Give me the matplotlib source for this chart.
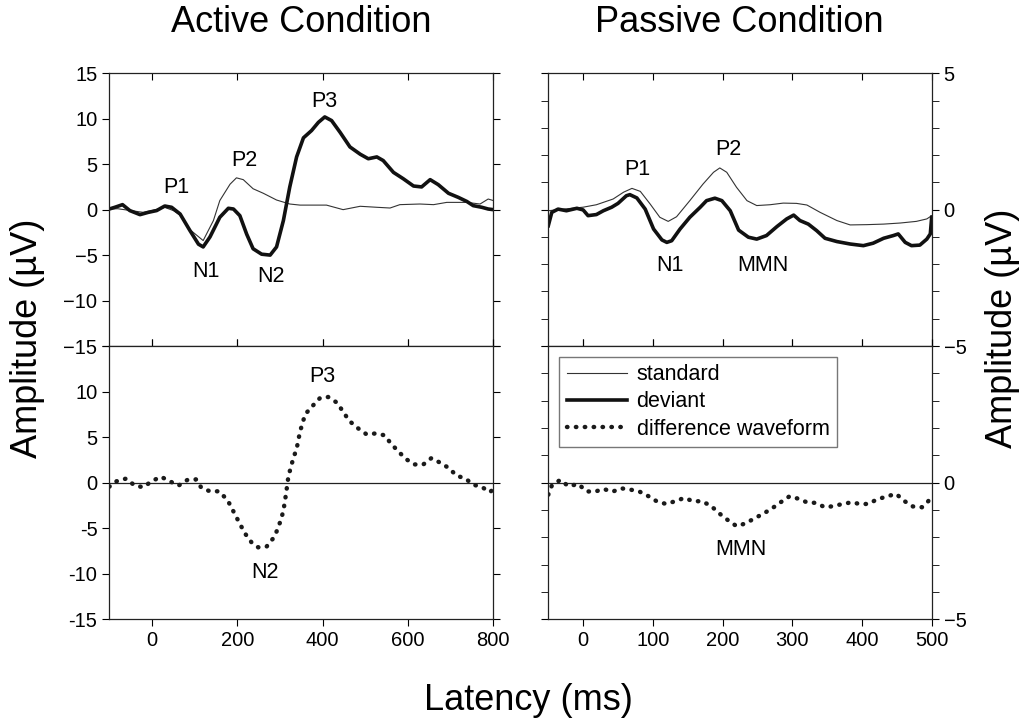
import matplotlib
matplotlib.use("Agg")
import matplotlib.pyplot as plt
import numpy as np
from matplotlib.lines import Line2D

plt.rcParams['font.family'] = ['Liberation Sans', 'DejaVu Sans']

# ---------------- Active condition data ----------------
act_dev_t = [-100, -87, -69, -52, -28, -9, 11, 30, 46, 66, 89, 109, 120, 136, 159, 179, 191,
             206, 222, 237, 257, 277, 292, 308, 323, 339, 355, 374, 390, 405, 421, 441, 464,
             488, 507, 527, 542, 566, 589, 613, 632, 652, 671, 695, 718, 738, 753, 773, 788, 800]
act_dev_v = [0.07, 0.26, 0.55, -0.1, -0.55, -0.3, -0.1, 0.4, 0.26, -0.48, -2.3, -3.8, -4.1, -3.0,
             -0.84, 0.15, 0.07, -0.66, -2.7, -4.3, -4.9, -5.0, -4.1, -1.2, 2.5, 5.8, 7.9, 8.7, 9.6,
             10.2, 9.8, 8.5, 6.9, 6.1, 5.6, 5.8, 5.4, 4.1, 3.4, 2.6, 2.5, 3.3, 2.75, 1.8, 1.35,
             0.9, 0.44, 0.26, 0.07, 0.0]

act_std_t = [-100, -80, -50, -20, 0, 30, 50, 66, 89, 120, 144, 159, 183, 198, 214, 237, 261,
             292, 323, 347, 409, 448, 488, 527, 558, 581, 628, 660, 691, 738, 769, 788, 800]
act_std_v = [0.07, 0.1, -0.1, -0.3, -0.1, 0.25, -0.1, -0.6, -2.2, -3.4, -1.2, 1.0, 2.8, 3.5,
             3.3, 2.3, 1.8, 1.06, 0.62, 0.5, 0.5, 0.0, 0.37, 0.26, 0.18, 0.55, 0.62, 0.55, 0.8,
             0.8, 0.62, 1.17, 1.0]

act_diff_t = [-100, -83, -61, -40, -20, -1, 21, 42, 62, 83, 103, 116, 136, 157, 177, 187, 198,
              208, 220, 234, 249, 269, 286, 295, 302, 308, 314, 320, 326, 331, 339, 347, 359,
              376, 394, 413, 433, 448, 462, 482, 503, 524, 545, 560, 576, 595, 615, 636, 655,
              675, 696, 714, 734, 753, 774, 792, 800]
act_diff_v = [-0.44, 0.15, 0.44, -0.33, -0.5, 0.15, 0.65, 0.15, -0.33, 0.3, 0.36, -0.58, -0.95,
              -0.95, -1.9, -2.8, -3.8, -4.7, -5.7, -6.6, -7.1, -7.0, -6.0, -5.05, -4.1, -3.1,
              -1.3, 0.76, 1.75, 2.65, 3.7, 5.6, 7.5, 8.4, 9.3, 9.4, 8.8, 7.8, 6.8, 6.0, 5.3, 5.4,
              5.2, 4.3, 3.5, 2.6, 2.0, 2.0, 2.7, 2.2, 1.6, 0.76, 0.47, -0.22, -0.5, -1.05, -0.7]

# ---------------- Passive condition data ----------------
pas_std_t = [-50, -28, 0, 19, 43, 58, 70, 82, 96, 110, 122, 134, 153, 172, 187, 196, 206, 220,
             235, 249, 268, 287, 306, 321, 340, 364, 383, 407, 431, 455, 478, 493, 500]
pas_std_v = [-0.04, 0.02, 0.09, 0.18, 0.39, 0.64, 0.78, 0.67, 0.21, -0.28, -0.43, -0.26, 0.33,
             0.94, 1.37, 1.53, 1.37, 0.82, 0.33, 0.15, 0.18, 0.24, 0.23, 0.17, -0.1, -0.4, -0.56,
             -0.55, -0.53, -0.49, -0.43, -0.34, -0.22]

pas_dev_t = [-50, -45, -36, -24, -9, 0, 7, 19, 29, 41, 50, 62, 67, 77, 89, 101, 113, 120, 127,
             139, 153, 168, 177, 189, 199, 211, 223, 237, 249, 263, 278, 292, 302, 311, 323, 335,
             347, 364, 383, 402, 416, 431, 445, 452, 462, 471, 483, 493, 498, 500]
pas_dev_v = [-0.59, -0.1, 0.02, -0.04, 0.05, -0.01, -0.22, -0.18, -0.04, 0.09, 0.23, 0.51, 0.55,
             0.43, 0.02, -0.71, -1.11, -1.2, -1.14, -0.71, -0.28, 0.09, 0.33, 0.42, 0.33, -0.04,
             -0.75, -1.01, -1.08, -0.95, -0.62, -0.34, -0.2, -0.4, -0.53, -0.77, -1.05, -1.17,
             -1.26, -1.32, -1.23, -1.05, -0.95, -0.89, -1.2, -1.32, -1.3, -1.08, -0.89, -0.28]

pas_diff_t = [-50, -45, -33, -21, -7, 5, 17, 29, 42, 55, 67, 81, 94, 106, 119, 132, 145, 158,
              170, 183, 195, 208, 220, 232, 245, 258, 270, 282, 296, 309, 321, 333, 347, 359,
              372, 385, 397, 409, 421, 436, 449, 460, 473, 486, 495, 500]
pas_diff_v = [-0.44, -0.11, 0.1, -0.13, -0.05, -0.32, -0.33, -0.23, -0.33, -0.21, -0.25, -0.33,
              -0.5, -0.69, -0.78, -0.68, -0.56, -0.68, -0.68, -0.84, -1.12, -1.38, -1.59, -1.5,
              -1.32, -1.14, -0.96, -0.74, -0.5, -0.59, -0.72, -0.74, -0.9, -0.86, -0.78, -0.72,
              -0.78, -0.78, -0.62, -0.5, -0.41, -0.66, -0.87, -0.9, -0.68, -0.47]

legend_labels = ["standard", "deviant", "difference waveform"]

# ---------------- Figure ----------------
W, H = 1029, 724
fig = plt.figure(figsize=(W / 100, H / 100), dpi=100)

def ax_rect(x0, x1, y0, y1):
    return [x0 / W, 1 - y1 / H, (x1 - x0) / W, (y1 - y0) / H]

axA1 = fig.add_axes(ax_rect(109.3, 493.3, 73.3, 346))
axA2 = fig.add_axes(ax_rect(109.3, 493.3, 346, 619.3))
axP1 = fig.add_axes(ax_rect(548.3, 931.7, 73.3, 346))
axP2 = fig.add_axes(ax_rect(548.3, 931.7, 346, 619.3))

TICKFS = 14.5
ANNFS = 15.5
thin_lw = 0.8
thick_lw = 2.6
dot_style = dict(color='#1a1a1a', lw=3.2, linestyle=(0, (0.1, 1.9)), dash_capstyle='round')

for ax in (axA1, axA2, axP1, axP2):
    for s in ax.spines.values():
        s.set_linewidth(0.9)
        s.set_color('#222222')

# --- Active top ---
axA1.plot(act_std_t, act_std_v, color='#333333', lw=thin_lw)
axA1.plot(act_dev_t, act_dev_v, color='#111111', lw=thick_lw)
axA1.set_xlim(-100, 800)
axA1.set_ylim(-15, 15)
axA1.set_yticks([-15, -10, -5, 0, 5, 10, 15])
axA1.set_xticks([0, 200, 400, 600, 800])
axA1.tick_params(axis='x', which='both', top=True, bottom=True, direction='in',
                 labelbottom=False, length=5)
axA1.tick_params(axis='y', which='both', left=True, right=True, direction='out',
                 labelsize=TICKFS, length=5)
for t, txt, v in [(56, 'P1', 2.4), (216, 'P2', 5.4), (405, 'P3', 11.9), (126, 'N1', -6.8), (279, 'N2', -7.4)]:
    axA1.text(t, v, txt, fontsize=ANNFS, ha='center', va='center')

# --- Active bottom ---
axA2.axhline(0, color='#222222', lw=0.9)
axA2.plot(act_diff_t, act_diff_v, **dot_style)
axA2.set_xlim(-100, 800)
axA2.set_ylim(-15, 15)
axA2.set_yticks([-15, -10, -5, 0, 5, 10, 15])
axA2.set_yticklabels(['-15', '-10', '-5', '0', '5', '10', ''])
axA2.set_xticks([0, 200, 400, 600, 800])
axA2.tick_params(axis='x', which='both', top=True, bottom=True, direction='out',
                 labelsize=TICKFS, length=5)
axA2.tick_params(axis='y', which='both', left=True, right=True, direction='out',
                 labelsize=TICKFS, length=5)
axA2.text(400, 11.7, 'P3', fontsize=ANNFS, ha='center', va='center')
axA2.text(265, -9.9, 'N2', fontsize=ANNFS, ha='center', va='center')

# --- Passive top ---
axP1.plot(pas_std_t, pas_std_v, color='#333333', lw=thin_lw)
axP1.plot(pas_dev_t, pas_dev_v, color='#111111', lw=thick_lw)
axP1.set_xlim(-50, 500)
axP1.set_ylim(-5, 5)
axP1.set_yticks([-5, 0, 5])
axP1.set_yticks(np.arange(-5, 6, 1), minor=True)
axP1.set_xticks([0, 100, 200, 300, 400, 500])
axP1.tick_params(axis='x', which='both', top=True, bottom=True, direction='in',
                 labelbottom=False, length=5)
axP1.tick_params(axis='y', which='both', left=True, right=True, labelleft=False,
                 labelright=True, direction='out', labelsize=TICKFS, length=5)
for t, txt, v in [(77, 'P1', 1.47), (208, 'P2', 2.2), (124, 'N1', -2.04), (258, 'MMN', -2.04)]:
    axP1.text(t, v, txt, fontsize=ANNFS, ha='center', va='center')

# --- Passive bottom ---
axP2.axhline(0, color='#222222', lw=0.9)
axP2.plot(pas_diff_t, pas_diff_v, **dot_style)
axP2.set_xlim(-50, 500)
axP2.set_ylim(-5, 5)
axP2.set_yticks([-5, 0])
axP2.set_yticks(np.arange(-5, 6, 1), minor=True)
axP2.set_xticks([0, 100, 200, 300, 400, 500])
axP2.tick_params(axis='x', which='both', top=True, bottom=True, direction='out',
                 labelsize=TICKFS, length=5)
axP2.tick_params(axis='y', which='both', left=True, right=True, labelleft=False,
                 labelright=True, direction='out', labelsize=TICKFS, length=5)
axP2.text(226, -2.45, 'MMN', fontsize=ANNFS, ha='center', va='center')

h1 = Line2D([], [], color='#333333', lw=thin_lw)
h2 = Line2D([], [], color='#111111', lw=thick_lw)
h3 = Line2D([], [], **dot_style)
leg = axP2.legend([h1, h2, h3], legend_labels, loc='upper left',
                  bbox_to_anchor=(0.028, 0.96), borderaxespad=0, fontsize=15.5,
                  frameon=True, fancybox=False, edgecolor='#555555', handlelength=2.8,
                  handletextpad=0.45, labelspacing=0.28, borderpad=0.35)
leg.get_frame().set_linewidth(1.0)

# --- Titles & labels ---
fig.text(301 / W, 1 - 23 / H, 'Active Condition', fontsize=26, ha='center', va='center')
fig.text(739 / W, 1 - 23 / H, 'Passive Condition', fontsize=26, ha='center', va='center')
fig.text(528 / W, 1 - 700 / H, 'Latency (ms)', fontsize=26, ha='center', va='center')
fig.text(28 / W, 1 - 338 / H, 'Amplitude (µV)', fontsize=26, ha='center', va='center', rotation=90)
fig.text(1003 / W, 1 - 328 / H, 'Amplitude (µV)', fontsize=26, ha='center', va='center', rotation=90)

fig.savefig('out.png', dpi=100)
